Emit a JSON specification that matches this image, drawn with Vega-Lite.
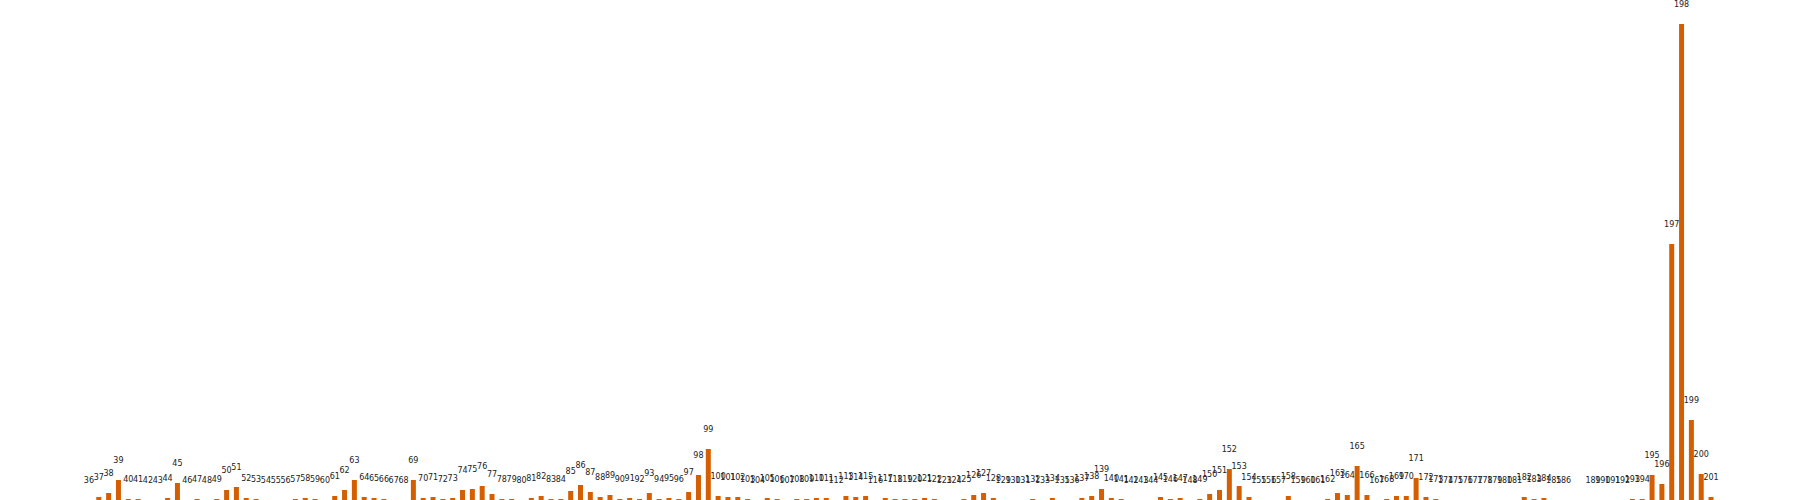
{
  "$schema": "https://vega.github.io/schema/vega-lite/v6.json",
  "width": 1800,
  "height": 500,
  "padding": 0,
  "autosize": {"type": "none"},
  "background": "white",
  "config": {"view": {"stroke": null}},
  "data": {"values": [
    {"n":36,"v":0},{"n":37,"v":3},{"n":38,"v":7},{"n":39,"v":20},{"n":40,"v":1},{"n":41,"v":1},{"n":42,"v":0},{"n":43,"v":0},{"n":44,"v":2},{"n":45,"v":17},
    {"n":46,"v":0},{"n":47,"v":1},{"n":48,"v":0},{"n":49,"v":1},{"n":50,"v":10},{"n":51,"v":13},{"n":52,"v":2},{"n":53,"v":1},{"n":54,"v":0},{"n":55,"v":0},
    {"n":56,"v":0},{"n":57,"v":1},{"n":58,"v":2},{"n":59,"v":1},{"n":60,"v":0},{"n":61,"v":4},{"n":62,"v":10},{"n":63,"v":20},{"n":64,"v":3},{"n":65,"v":2},
    {"n":66,"v":1},{"n":67,"v":0},{"n":68,"v":0},{"n":69,"v":20},{"n":70,"v":2},{"n":71,"v":3},{"n":72,"v":1},{"n":73,"v":2},{"n":74,"v":10},{"n":75,"v":11},
    {"n":76,"v":14},{"n":77,"v":6},{"n":78,"v":1},{"n":79,"v":1},{"n":80,"v":0},{"n":81,"v":2},{"n":82,"v":4},{"n":83,"v":1},{"n":84,"v":1},{"n":85,"v":9},
    {"n":86,"v":15},{"n":87,"v":8},{"n":88,"v":3},{"n":89,"v":5},{"n":90,"v":1},{"n":91,"v":2},{"n":92,"v":1},{"n":93,"v":7},{"n":94,"v":1},{"n":95,"v":2},
    {"n":96,"v":1},{"n":97,"v":8},{"n":98,"v":25},{"n":99,"v":51},{"n":100,"v":4},{"n":101,"v":3},{"n":102,"v":3},{"n":103,"v":1},{"n":104,"v":0},{"n":105,"v":2},
    {"n":106,"v":1},{"n":107,"v":0},{"n":108,"v":1},{"n":109,"v":1},{"n":110,"v":2},{"n":111,"v":2},{"n":112,"v":0},{"n":113,"v":4},{"n":114,"v":3},{"n":115,"v":4},
    {"n":116,"v":0},{"n":117,"v":2},{"n":118,"v":1},{"n":119,"v":1},{"n":120,"v":1},{"n":121,"v":2},{"n":122,"v":1},{"n":123,"v":0},{"n":124,"v":0},{"n":125,"v":1},
    {"n":126,"v":5},{"n":127,"v":7},{"n":128,"v":2},{"n":129,"v":0},{"n":130,"v":0},{"n":131,"v":0},{"n":132,"v":1},{"n":133,"v":0},{"n":134,"v":2},{"n":135,"v":0},
    {"n":136,"v":0},{"n":137,"v":2},{"n":138,"v":4},{"n":139,"v":11},{"n":140,"v":2},{"n":141,"v":1},{"n":142,"v":0},{"n":143,"v":0},{"n":144,"v":0},{"n":145,"v":3},
    {"n":146,"v":1},{"n":147,"v":2},{"n":148,"v":0},{"n":149,"v":1},{"n":150,"v":6},{"n":151,"v":10},{"n":152,"v":31},{"n":153,"v":14},{"n":154,"v":3},{"n":155,"v":0},
    {"n":156,"v":0},{"n":157,"v":0},{"n":158,"v":4},{"n":159,"v":0},{"n":160,"v":0},{"n":161,"v":0},{"n":162,"v":1},{"n":163,"v":7},{"n":164,"v":5},{"n":165,"v":34},
    {"n":166,"v":5},{"n":167,"v":0},{"n":168,"v":1},{"n":169,"v":4},{"n":170,"v":4},{"n":171,"v":22},{"n":172,"v":3},{"n":173,"v":1},{"n":174,"v":0},{"n":175,"v":0},
    {"n":176,"v":0},{"n":177,"v":0},{"n":178,"v":0},{"n":179,"v":0},{"n":180,"v":0},{"n":181,"v":0},{"n":182,"v":3},{"n":183,"v":1},{"n":184,"v":2},{"n":185,"v":0},
    {"n":186,"v":0},{"n":189,"v":0},{"n":190,"v":0},{"n":191,"v":0},{"n":192,"v":0},{"n":193,"v":1},{"n":194,"v":1},{"n":195,"v":25},
    {"n":196,"v":16},{"n":197,"v":256},{"n":198,"v":476},{"n":199,"v":80},{"n":200,"v":26},{"n":201,"v":3}
  ]},
  "encoding": {
    "x": {"field": "n", "type": "quantitative", "axis": null, "scale": {"domain": [27.46, 209.54], "nice": false, "zero": false}},
    "y": {"field": "v", "type": "quantitative", "axis": null, "scale": {"domain": [0, 500], "nice": false}}
  },
  "layer": [
    {"mark": {"type": "bar", "width": 5, "color": "#d55e00"}},
    {"mark": {"type": "text", "baseline": "middle", "align": "center", "dy": -19.5, "font": "DejaVu Sans", "fontSize": 8, "color": "#222222"},
     "encoding": {"text": {"field": "n", "type": "quantitative", "format": "d"}}}
  ]
}
